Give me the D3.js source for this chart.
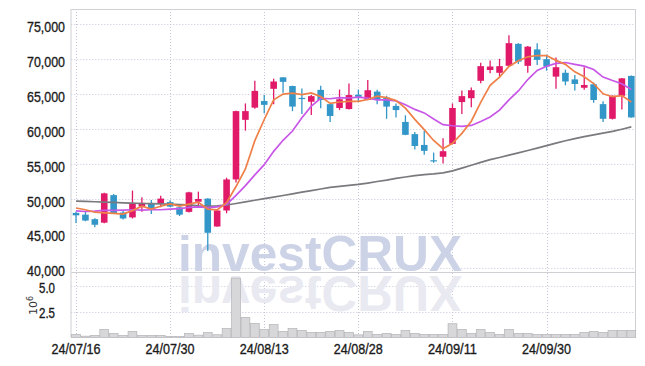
<!DOCTYPE html>
<html><head><meta charset="utf-8">
<script src="https://cdn.jsdelivr.net/npm/d3@7"></script>
<style>html,body{margin:0;padding:0;background:#fff;} svg{display:block}</style>
</head><body>
<svg id="c" width="645" height="366"></svg>
<script>
const dates = ["24/07/16","24/07/17","24/07/18","24/07/19","24/07/22","24/07/23","24/07/24","24/07/25","24/07/26","24/07/29",
"24/07/30","24/07/31","24/08/01","24/08/02","24/08/05","24/08/06","24/08/07","24/08/08","24/08/09","24/08/12",
"24/08/13","24/08/14","24/08/16","24/08/19","24/08/20","24/08/21","24/08/22","24/08/23","24/08/26","24/08/27",
"24/08/28","24/08/29","24/08/30","24/09/02","24/09/03","24/09/04","24/09/05","24/09/06","24/09/09","24/09/10",
"24/09/11","24/09/12","24/09/13","24/09/19","24/09/20","24/09/23","24/09/24","24/09/25","24/09/26","24/09/27",
"24/09/30","24/10/02","24/10/04","24/10/07","24/10/08","24/10/10","24/10/11","24/10/14","24/10/15","24/10/16"];

const open = [47950,47700,47050,46550,50500,48000,47300,48850,49250,49250,
49500,48750,48100,49550,50000,46000,48300,52750,61300,63050,
64000,65750,67400,66150,64450,63900,65600,63550,63000,62850,
64900,64150,65350,64500,63300,61000,59250,57700,55500,56000,
57850,63850,64400,66900,68450,68050,69050,72200,69050,71400,
70000,67500,68050,67100,65900,66400,63550,61450,64750,67600];

const high = [48150,48100,47200,50850,50650,48250,51150,50200,49800,50400,
49750,48900,51000,51000,50050,48400,53000,62600,63650,66900,
64850,67200,67400,66200,65800,64850,66200,63600,65650,66500,
65650,67000,65600,64750,63650,61950,59550,59750,56600,58650,
63650,65500,65950,69500,69800,70050,73450,72300,71900,72300,
70650,70250,68500,67750,68850,66650,63950,64800,67300,67650];

const low = [46500,46750,45900,46450,47800,47000,47150,48100,47800,48750,
48800,47500,48000,48950,42500,45950,47900,52300,59750,62900,
62250,63550,65200,62550,62150,62000,62950,61000,62700,62800,
63900,64100,63550,61450,61650,59100,57050,56300,55150,55050,
57800,62150,63100,66550,68000,67500,68900,69300,68050,69150,
68350,65750,66250,65500,65600,63750,61000,61350,62800,61600];

const close = [47600,46850,46250,50750,47900,47150,49350,49400,48650,50000,
48850,47700,50900,49950,45100,48300,52750,62550,62550,65450,
63450,66800,66750,63200,64350,64700,64150,61850,64250,64850,
64600,65550,64250,63200,62700,59150,57550,56850,55450,56800,
63000,64700,65550,69000,68950,69000,72300,69650,71800,69900,
68950,68850,66800,66450,66300,64150,61450,64750,67250,61650];

// volume in millions of shares
const volume = [0.30,0.13,0.20,0.79,0.40,0.20,0.59,0.20,0.20,0.20,
0.10,0.10,0.40,0.23,0.48,0.27,0.87,5.82,1.97,1.38,
0.77,1.26,0.59,0.87,0.69,0.49,0.49,0.60,0.69,0.49,
0.26,0.59,0.31,0.40,0.31,0.69,0.40,0.30,0.30,0.30,
1.35,0.79,0.40,0.79,0.49,0.30,0.79,0.40,0.40,0.30,
0.30,0.30,0.30,0.30,0.49,0.59,0.49,0.69,0.69,0.69];

const ma5 = [48650,48400,48050,47950,47870,47780,48280,48910,48490,48910,
49250,48920,49220,49480,48500,48390,49400,51730,54250,58320,
61350,64160,65000,65130,64910,65160,64630,63650,63860,63960,
63940,64220,64700,64490,64060,62970,61370,59890,58340,57160,
57930,59360,61100,63810,66240,67440,68960,69780,70340,70530,
70520,69830,69260,68190,67470,66510,65030,64620,64780,63850];

const ma10 = [48250,48150,48200,48300,48300,48350,48400,48350,48400,48400,
48500,48550,48750,48800,48700,48820,49160,50475,51865,53410,
54870,56780,58365,59690,61615,63255,64395,64325,64495,64435,
64550,64425,64175,64175,64010,63455,62795,62295,61415,60610,
60450,60365,60495,61075,61700,62685,64160,65440,67075,68385,
68980,69395,69520,69265,69000,68515,67430,66940,66485,65660];

const ma60 = [49650,49600,49550,49500,49450,49400,49350,49300,49280,49250,
49220,49150,49100,48950,48920,48950,49080,49300,49530,49760,
49990,50220,50450,50680,50920,51150,51380,51620,51750,51900,
52040,52230,52450,52650,52900,53100,53300,53450,53550,53700,
53980,54380,54780,55200,55600,55900,56230,56550,56900,57250,
57600,57950,58300,58600,58900,59150,59400,59650,59950,60280];

const priceTicks = [40000,45000,50000,55000,60000,65000,70000,75000];
const volumeTicks = [2.5,5.0];
const dateTicks = ["24/07/16","24/07/30","24/08/13","24/08/28","24/09/11","24/09/30"];

const svg = d3.select("#c");
const L = 71.3, R = 636, T = 9, PB = 272.5, VB = 337.5;
const x = d3.scaleBand().domain(dates).range([L, R]).padding(0);
const y = d3.scaleLinear().domain([39400, 77200]).range([PB, T]);
const yv = d3.scaleLinear().domain([0, 6.37]).range([VB, PB]);
const cx = d => x(d) + x.bandwidth() / 2;

const UP = "#e11969", DOWN = "#3296c8", GRID = "#c4c6d8", BORDER = "#cfcfd4";
const FONT = "'Liberation Sans',Arial,sans-serif";

svg.append("rect").attr("width", 645).attr("height", 366).attr("fill", "#fff");

// grid
const grid = svg.append("g").attr("stroke", GRID).attr("stroke-dasharray", "1,2").attr("stroke-width", 1);
grid.selectAll("line.hp").data(priceTicks).join("line")
  .attr("x1", L).attr("x2", R).attr("y1", d => Math.round(y(d)) + 0.5).attr("y2", d => Math.round(y(d)) + 0.5);
grid.selectAll("line.hv").data(volumeTicks).join("line").attr("class", "hv")
  .attr("x1", L).attr("x2", R).attr("y1", d => Math.round(yv(d)) + 0.5).attr("y2", d => Math.round(yv(d)) + 0.5);
grid.selectAll("line.v").data(dateTicks).join("line").attr("class", "v")
  .attr("x1", d => Math.round(cx(d)) + 0.5).attr("x2", d => Math.round(cx(d)) + 0.5).attr("y1", T).attr("y2", VB);

// watermark
const wm = svg.append("g").attr("font-family", "'Liberation Sans',Arial,sans-serif").attr("font-weight", "bold").attr("font-size", 50);
wm.append("text").attr("x", 178).attr("y", 271).attr("textLength", 284).attr("lengthAdjust", "spacingAndGlyphs")
  .attr("fill", "#cdd3e7").text("investCRUX");
wm.append("g").attr("transform", "translate(0,547) scale(1,-1)")
  .append("text").attr("x", 178).attr("y", 271).attr("textLength", 284).attr("lengthAdjust", "spacingAndGlyphs")
  .attr("fill", "#e9e9f1").text("investCRUX");

// borders
const b = svg.append("g").attr("stroke", BORDER).attr("stroke-width", 1).attr("fill", "none");
b.append("line").attr("x1", L - 0.3).attr("x2", L - 0.3).attr("y1", T).attr("y2", VB);
b.append("line").attr("x1", R - 0.5).attr("x2", R - 0.5).attr("y1", T).attr("y2", VB);
b.append("line").attr("x1", L).attr("x2", R).attr("y1", T + 0.5).attr("y2", T + 0.5);
b.append("line").attr("x1", L).attr("x2", R).attr("y1", PB).attr("y2", PB);

// volume bars
svg.append("g").selectAll("rect").data(dates).join("rect")
  .attr("x", d => x(d) + 0.3).attr("width", x.bandwidth() - 0.6)
  .attr("y", (d, i) => yv(volume[i])).attr("height", (d, i) => VB - yv(volume[i]))
  .attr("fill", "#d7d7d9").attr("stroke", "#b3b3b8").attr("stroke-width", 0.7);

// candles
const bw = x.bandwidth() * 0.7;
const cg = svg.append("g");
cg.selectAll("line").data(dates).join("line")
  .attr("x1", d => cx(d)).attr("x2", d => cx(d))
  .attr("y1", (d, i) => y(high[i])).attr("y2", (d, i) => y(low[i]))
  .attr("stroke", (d, i) => close[i] >= open[i] ? UP : DOWN).attr("stroke-width", 1.3);
cg.selectAll("rect").data(dates).join("rect")
  .attr("x", d => cx(d) - bw / 2).attr("width", bw)
  .attr("y", (d, i) => y(Math.max(open[i], close[i])))
  .attr("height", (d, i) => Math.max(1.2, Math.abs(y(open[i]) - y(close[i]))))
  .attr("fill", (d, i) => close[i] >= open[i] ? UP : DOWN);

// moving averages
const lineGen = arr => d3.line().x((d, i) => cx(dates[i])).y(d => y(d)).curve(d3.curveLinear)(arr);
svg.append("path").attr("d", lineGen(ma60)).attr("fill", "none").attr("stroke", "#7a7a7e").attr("stroke-width", 1.7);
svg.append("path").attr("d", lineGen(ma10)).attr("fill", "none").attr("stroke", "#c857e8").attr("stroke-width", 1.7);
svg.append("path").attr("d", lineGen(ma5)).attr("fill", "none").attr("stroke", "#ef8048").attr("stroke-width", 1.7);

// axes labels (condensed look via textLength)
function styleLabels(sel, size, len) {
  sel.attr("font-family", FONT).attr("font-size", size).attr("fill", "#1a1a1a")
    .attr("stroke", "#1a1a1a").attr("stroke-width", 0.35)
    .attr("textLength", len).attr("lengthAdjust", "spacingAndGlyphs");
}
const yAxis = d3.axisLeft(y).tickValues(priceTicks).tickFormat(d3.format(",")).tickSize(0).tickPadding(0);
const ya = svg.append("g").attr("transform", "translate(65,0)").call(yAxis);
ya.select(".domain").remove();
ya.selectAll("text").attr("dy", "7.5").attr("x", 0).call(styleLabels, 15, 38);

const vAxis = d3.axisLeft(yv).tickValues(volumeTicks).tickFormat(d3.format(".1f")).tickSize(0).tickPadding(0);
const va = svg.append("g").attr("transform", "translate(55,0)").call(vAxis);
va.select(".domain").remove();
va.selectAll("text").attr("dy", "6").attr("x", 0).call(styleLabels, 14, 16);

const xAxis = d3.axisBottom(x).tickValues(dateTicks).tickSize(0).tickPadding(0);
const xa = svg.append("g").attr("transform", "translate(0,343)").call(xAxis);
xa.select(".domain").remove();
xa.selectAll("text").attr("dy", "11").attr("y", 0).call(styleLabels, 15, 49);

// volume unit label
const u = svg.append("text").attr("transform", "translate(37,315) rotate(-90)")
  .attr("font-family", "'DejaVu Sans',sans-serif").attr("font-size", 11).attr("fill", "#333");
u.append("tspan").text("10");
u.append("tspan").attr("font-size", 8).attr("dy", -4).text("6");
</script>
</body></html>
